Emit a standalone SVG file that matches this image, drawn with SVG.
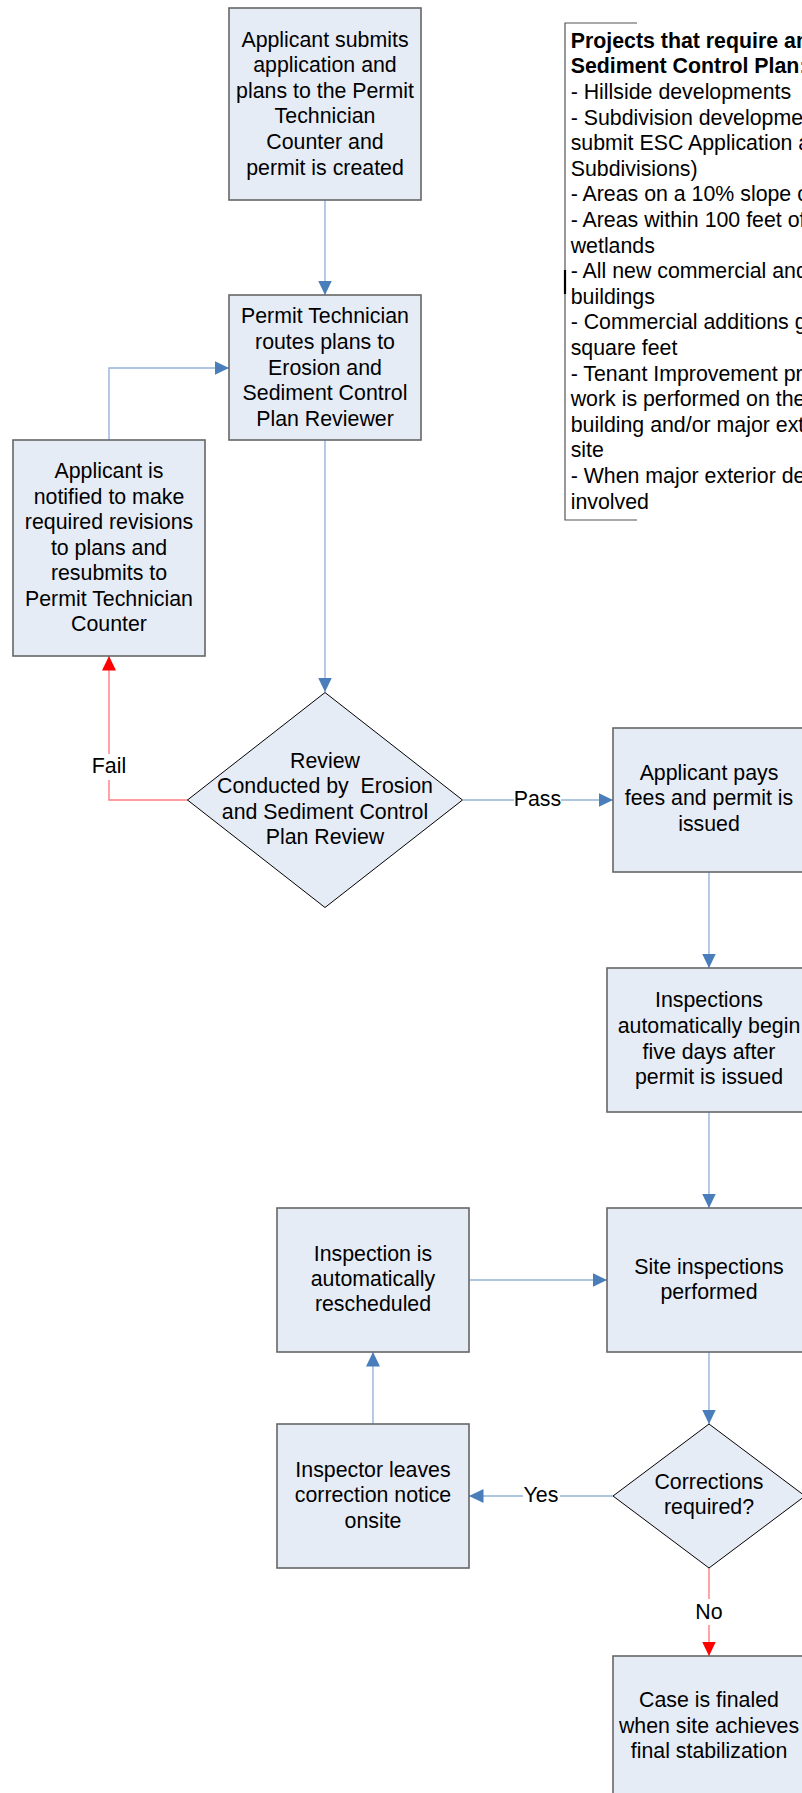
<svg xmlns="http://www.w3.org/2000/svg" width="802" height="1793" viewBox="0 0 802 1793">
<style>
.box{fill:#E6ECF6;stroke:#666;stroke-width:1.6}
.dia{fill:#E6ECF6;stroke:#000;stroke-width:1}
text{font-family:"Liberation Sans",Arial,sans-serif;font-size:21.33px;fill:#000}
.c{text-anchor:middle}
.b{font-weight:bold}
.blue{fill:none;stroke:#95B3D7;stroke-width:1.4;marker-end:url(#ab)}
.red{fill:none;stroke:#FF7C80;stroke-width:1.4;marker-end:url(#ar)}
.lbl{fill:#fff}
.note{fill:none;stroke:#555;stroke-width:1.2}
</style>
<defs>
<marker id="ab" markerUnits="userSpaceOnUse" markerWidth="16" markerHeight="16" refX="14.5" refY="7" orient="auto"><path d="M0,0 L14.5,7 L0,14 Z" fill="#4A7EBB"/></marker>
<marker id="ar" markerUnits="userSpaceOnUse" markerWidth="16" markerHeight="16" refX="14.5" refY="7" orient="auto"><path d="M0,0 L14.5,7 L0,14 Z" fill="#FF0000"/></marker>
</defs>
<rect width="802" height="1793" fill="#fff"/>

<g id="connectors">
<path class="blue" d="M325,200 V295"/>
<path class="blue" d="M325,440 V692"/>
<path class="blue" d="M109,440 V368 H229"/>
<path class="red" d="M188,800 H109 V656"/>
<rect class="lbl" x="92" y="754" width="34" height="26"/>
<text class="c" x="109" y="772.5">Fail</text>
<path class="blue" d="M463,800 H613"/>
<rect class="lbl" x="514" y="785" width="47" height="26"/>
<text class="c" x="537.5" y="806">Pass</text>
<path class="blue" d="M709,872 V968"/>
<path class="blue" d="M709,1112 V1208"/>
<path class="blue" d="M469,1280 H607"/>
<path class="blue" d="M709,1352 V1424"/>
<path class="blue" d="M613,1496 H469"/>
<rect class="lbl" x="523" y="1483" width="37" height="26"/>
<text class="c" x="541" y="1502">Yes</text>
<path class="blue" d="M373,1424 V1352"/>
<path class="red" d="M709,1568 V1656"/>
<rect class="lbl" x="694" y="1599" width="30" height="26"/>
<text class="c" x="709" y="1618.5">No</text>
</g>

<g id="n1">
<rect class="box" x="229" y="8" width="192" height="192"/>
<text class="c"><tspan x="325" y="46.7">Applicant submits</tspan><tspan x="325" y="72.3">application and</tspan><tspan x="325" y="97.8">plans to the Permit</tspan><tspan x="325" y="123.4">Technician</tspan><tspan x="325" y="149">Counter and</tspan><tspan x="325" y="174.5">permit is created</tspan></text>
</g>

<g id="n2">
<rect class="box" x="229" y="295" width="192" height="145"/>
<text class="c"><tspan x="325" y="323.3">Permit Technician</tspan><tspan x="325" y="348.9">routes plans to</tspan><tspan x="325" y="374.5">Erosion and</tspan><tspan x="325" y="400.1">Sediment Control</tspan><tspan x="325" y="425.7">Plan Reviewer</tspan></text>
</g>

<g id="n3">
<rect class="box" x="13" y="440" width="192" height="216"/>
<text class="c"><tspan x="109" y="478.3">Applicant is</tspan><tspan x="109" y="503.8">notified to make</tspan><tspan x="109" y="529.2">required revisions</tspan><tspan x="109" y="554.7">to plans and</tspan><tspan x="109" y="580.1">resubmits to</tspan><tspan x="109" y="605.6">Permit Technician</tspan><tspan x="109" y="631">Counter</tspan></text>
</g>

<g id="d1">
<path class="dia" d="M325,692.5 L462.5,800 L325,907.5 L187.5,800 Z"/>
<text class="c" xml:space="preserve"><tspan x="325" y="767.7">Review</tspan><tspan x="325" y="793.3">Conducted by  Erosion</tspan><tspan x="325" y="818.9">and Sediment Control</tspan><tspan x="325" y="844.4">Plan Review</tspan></text>
</g>

<g id="n4">
<rect class="box" x="613" y="728" width="192" height="144"/>
<text class="c"><tspan x="709" y="780">Applicant pays</tspan><tspan x="709" y="805.4">fees and permit is</tspan><tspan x="709" y="830.8">issued</tspan></text>
</g>

<g id="n5">
<rect class="box" x="607" y="968" width="204" height="144"/>
<text class="c"><tspan x="709" y="1007.3">Inspections</tspan><tspan x="709" y="1032.9">automatically begin</tspan><tspan x="709" y="1058.5">five days after</tspan><tspan x="709" y="1084">permit is issued</tspan></text>
</g>

<g id="n6">
<rect class="box" x="277" y="1208" width="192" height="144"/>
<text class="c"><tspan x="373" y="1260.7">Inspection is</tspan><tspan x="373" y="1286">automatically</tspan><tspan x="373" y="1311.3">rescheduled</tspan></text>
</g>

<g id="n7">
<rect class="box" x="607" y="1208" width="204" height="144"/>
<text class="c"><tspan x="709" y="1273.5">Site inspections</tspan><tspan x="709" y="1299">performed</tspan></text>
</g>

<g id="d2">
<path class="dia" d="M709,1424 L805,1496 L709,1568 L613,1496 Z"/>
<text class="c"><tspan x="709" y="1489">Corrections</tspan><tspan x="709" y="1514">required?</tspan></text>
</g>

<g id="n8">
<rect class="box" x="277" y="1424" width="192" height="144"/>
<text class="c"><tspan x="373" y="1476.7">Inspector leaves</tspan><tspan x="373" y="1502.1">correction notice</tspan><tspan x="373" y="1527.6">onsite</tspan></text>
</g>

<g id="n9">
<rect class="box" x="613" y="1656" width="192" height="144"/>
<text class="c"><tspan x="709" y="1707">Case is finaled</tspan><tspan x="709" y="1732.7">when site achieves</tspan><tspan x="709" y="1758.3">final stabilization</tspan></text>
</g>

<g id="note">
<path class="note" d="M637,23 H565 V520 H637"/>
<path d="M565,270 V294" stroke="#000" stroke-width="2.2"/>
<text x="570.7"><tspan class="b" x="570.7" y="47.7">Projects that require an</tspan><tspan class="b" x="570.7" y="73.3">Sediment Control Plan:</tspan><tspan x="570.7" y="99">- Hillside developments</tspan><tspan x="570.7" y="124.6">- Subdivision developments</tspan><tspan x="570.7" y="150.2">submit ESC Application and</tspan><tspan x="570.7" y="175.8">Subdivisions)</tspan><tspan x="570.7" y="201.4">- Areas on a 10% slope or</tspan><tspan x="570.7" y="227">- Areas within 100 feet of</tspan><tspan x="570.7" y="252.6">wetlands</tspan><tspan x="570.7" y="278.2">- All new commercial and</tspan><tspan x="570.7" y="303.8">buildings</tspan><tspan x="570.7" y="329.4">- Commercial additions greater</tspan><tspan x="570.7" y="355">square feet</tspan><tspan x="570.7" y="380.6">- Tenant Improvement projects</tspan><tspan x="570.7" y="406.2">work is performed on the</tspan><tspan x="570.7" y="431.8">building and/or major exterior</tspan><tspan x="570.7" y="457.4">site</tspan><tspan x="570.7" y="483">- When major exterior design</tspan><tspan x="570.7" y="508.6">involved</tspan></text>
</g>
</svg>
